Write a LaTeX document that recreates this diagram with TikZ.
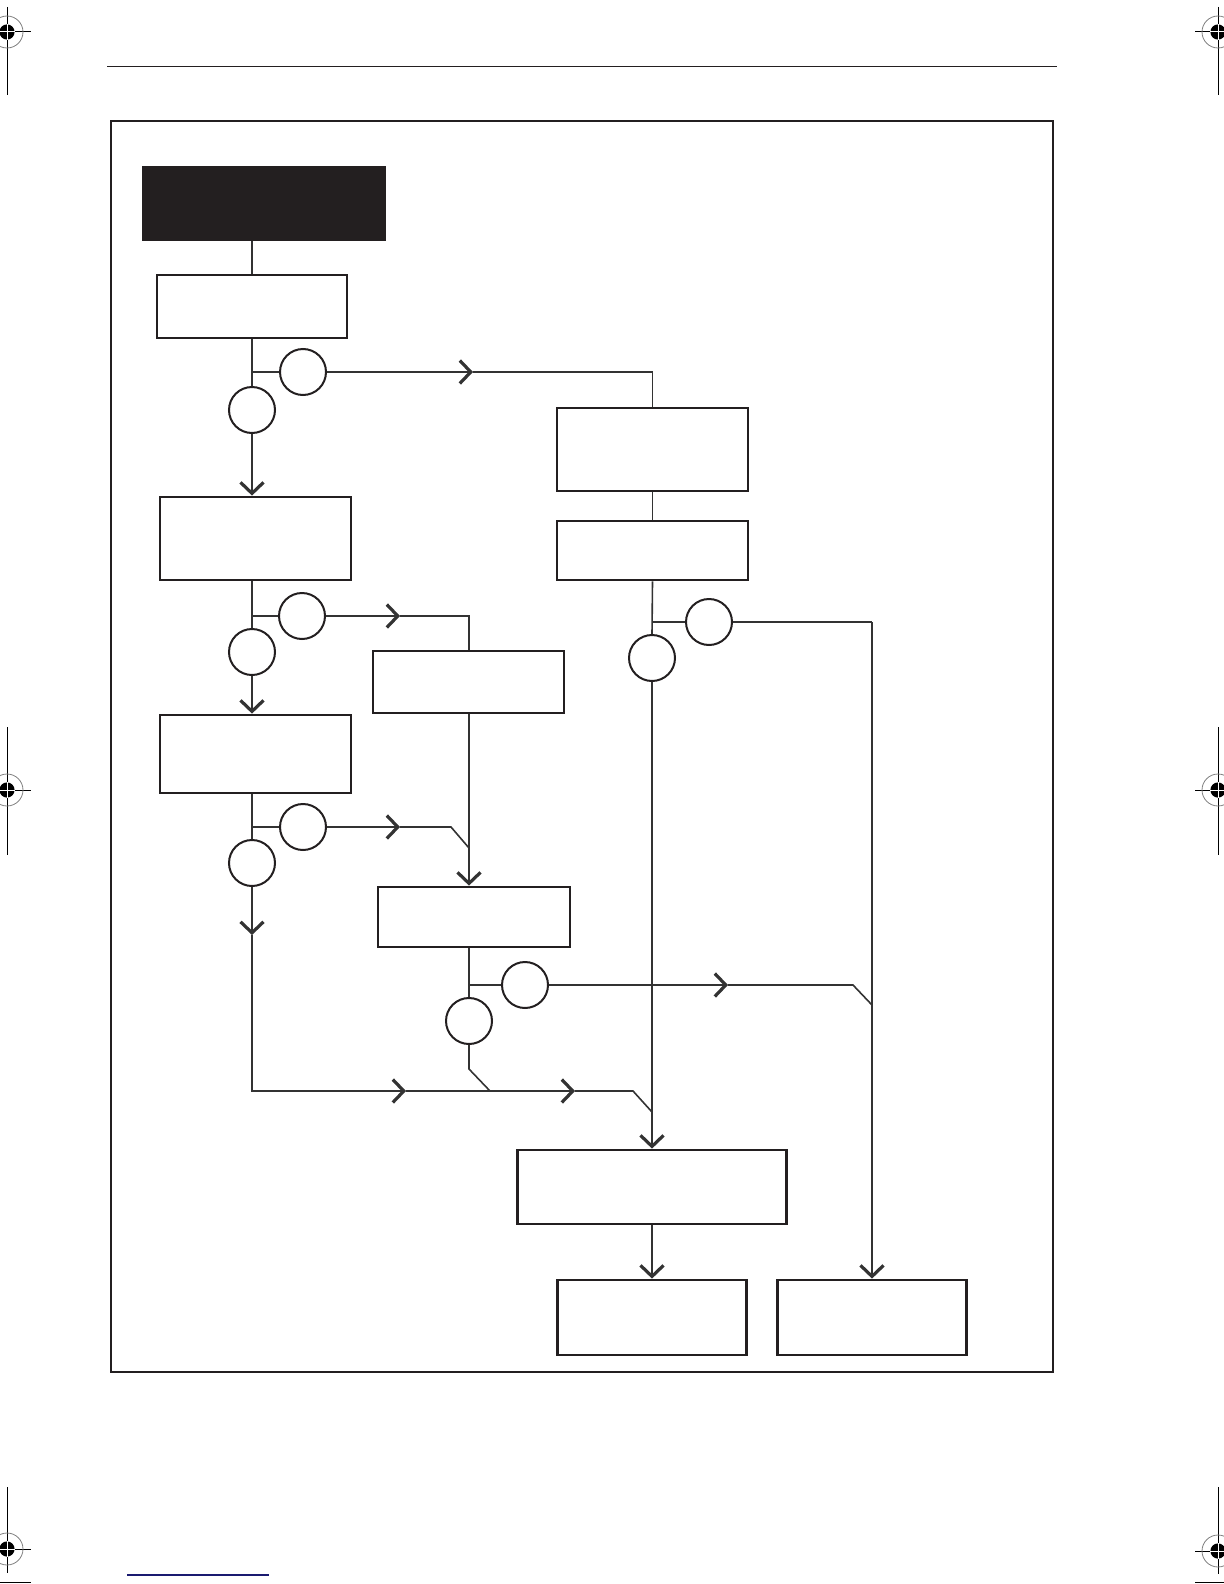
\documentclass[tikz,border=0pt]{standalone}
\usetikzlibrary{arrows.meta}
\definecolor{ink}{HTML}{231F20}
\definecolor{wire}{HTML}{333333}
\definecolor{navy}{HTML}{1A1A70}
\tikzset{
  box/.style={draw=ink, line width=1.4pt, fill=white, inner sep=0pt},
  blackbox/.style={fill=ink, draw=none, inner sep=0pt},
  sz/.style 2 args={minimum width={#1*0.5pt}, minimum height={#2*0.5pt}},
  junc/.style={circle, draw=ink, line width=1pt, fill=white, inner sep=0pt, minimum size=23pt},
  conn/.style={draw=wire, line width=0.8pt},
  flowarrow/.style={conn, -{Straight Barb[length=5.5pt,width=11.5pt,line width=1.6pt]}},
  regline/.style={draw=black, line width=0.5pt},
}
\newcommand{\regmk}[2]{%
  \draw[gray, line width=0.4pt] (#1,#2) circle[radius=8pt];
  \fill[black] (#1,#2) circle[radius=3.8pt];
  \draw[white, line width=0.5pt] ({#1-8},#2) -- ({#1+8},#2) ({#1},{#2-8}) -- ({#1},{#2+8});
}
\begin{document}
\begin{tikzpicture}[x=0.5pt,y=-0.5pt]
\useasboundingbox (0,0) rectangle (1224,1584);

% registration / crop marks
\draw[regline] (0,32) -- (31,32) (7,7) -- (7,95);
\regmk{7}{32}
\draw[regline] (1195,32) -- (1224,32) (1218,7) -- (1218,95);
\regmk{1218}{32}
\draw[regline] (0,790) -- (31,790) (7,727) -- (7,855);
\regmk{7}{790}
\draw[regline] (1195,790) -- (1224,790) (1218,727) -- (1218,855);
\regmk{1218}{790}
\draw[regline] (0,1549) -- (31,1549) (7,1487) -- (7,1573) (0,1582) -- (31,1582);
\regmk{7}{1549}
\draw[regline] (1195,1551) -- (1224,1551) (1218,1487) -- (1218,1574) (1195,1582) -- (1224,1582);
\regmk{1218}{1551}

% header rule, footer rule, frame
\draw[ink, line width=0.7pt] (107,66.5) -- (1057,66.5);
\draw[navy, line width=0.6pt] (127,1575) -- (269,1575);
\draw[ink, line width=1pt] (111,121) rectangle (1053,1372);

% boxes
\node[blackbox, sz={244}{75}] (top) at (264,203.5) {};
\node[box, sz={190}{63}] (b1) at (252,306.5) {};
\node[box, sz={191}{83}] (b2) at (255.5,538.5) {};
\node[box, sz={191}{62}] (b3) at (468.5,682) {};
\node[box, sz={191}{78}] (b4) at (255.5,754) {};
\node[box, sz={192}{60}] (b5) at (474,917) {};
\node[box, sz={191}{83}] (r1) at (652.5,449.5) {};
\node[box, sz={191}{59}] (r2) at (652.5,550.5) {};
\node[box, sz={269}{74}] (b6) at (652,1187) {};
\node[box, sz={189}{75}] (f1) at (652,1317.5) {};
\node[box, sz={189}{75}] (f2) at (872,1317.5) {};

% decision circles
\node[junc] (c1) at (303,372) {};
\node[junc] (c2) at (252,410) {};
\node[junc] (c3) at (302,616) {};
\node[junc] (c4) at (252,652) {};
\node[junc] (c5) at (303,827) {};
\node[junc] (c6) at (252,863) {};
\node[junc] (c7) at (525,985) {};
\node[junc] (c8) at (469,1021) {};
\node[junc] (c9) at (709,622) {};
\node[junc] (c10) at (652,658) {};

% helper coordinates (arrow tips and bends)
\coordinate (a1) at (473,372);
\coordinate (a3) at (400,616);
\coordinate (a5) at (400,827);
\coordinate (k5) at (451,827);
\coordinate (m5) at (469,848);
\coordinate (a6) at (252,935);
\coordinate (g0) at (252,1091);
\coordinate (g1) at (406,1091);
\coordinate (g2) at (575,1091);
\coordinate (k8) at (469,1069);
\coordinate (m8) at (490,1091);
\coordinate (kg) at (633,1091);
\coordinate (mg) at (652,1112);
\coordinate (a7) at (728,985);
\coordinate (k7) at (853,985);
\coordinate (m7) at (872,1005);

% connectors
\draw[conn] (b1.north |- top.south) -- (b1.north);
\draw[conn] (b1.south -| c2) -- (c2.north);
\draw[conn] (c2 |- c1) -- (c1.west);
\draw[flowarrow] (c1.east) -- (a1);
\draw[conn] (a1) -- (r1.north |- c1) -- (r1.north);
\draw[flowarrow] (c2.south) -- (c2 |- b2.north);
\draw[conn] (r1.south) -- (r2.north);
\draw[conn] (r2.south) -- (c10.north);
\draw[conn] (c10 |- c9) -- (c9.west);
\draw[conn] (c9.east) -- (f2.north |- c9);
\draw[flowarrow] (f2.north |- c9) -- (f2.north);
\draw[flowarrow] (c10.south) -- (c10 |- b6.north);
\draw[conn] (c4 |- b2.south) -- (c4.north);
\draw[conn] (c4 |- c3) -- (c3.west);
\draw[flowarrow] (c3.east) -- (a3);
\draw[conn] (a3) -- (c8 |- c3) -- (c8 |- b3.north);
\draw[flowarrow] (c4.south) -- (c4 |- b4.north);
\draw[conn] (c6 |- b4.south) -- (c6.north);
\draw[conn] (c6 |- c5) -- (c5.west);
\draw[flowarrow] (c5.east) -- (a5);
\draw[conn] (a5) -- (k5) -- (m5);
\draw[flowarrow] (c8 |- b3.south) -- (c8 |- b5.north);
\draw[flowarrow] (c6.south) -- (a6);
\draw[flowarrow] (a6) -- (g0) -- (g1);
\draw[flowarrow] (g1) -- (g2);
\draw[conn] (g2) -- (kg) -- (mg);
\draw[conn] (c8 |- b5.south) -- (c8.north);
\draw[conn] (c8 |- c7) -- (c7.west);
\draw[flowarrow] (c7.east) -- (a7);
\draw[conn] (a7) -- (k7) -- (m7);
\draw[conn] (c8.south) -- (k8) -- (m8);
\draw[flowarrow] (b6.south) -- (f1.north);
\end{tikzpicture}
\end{document}
